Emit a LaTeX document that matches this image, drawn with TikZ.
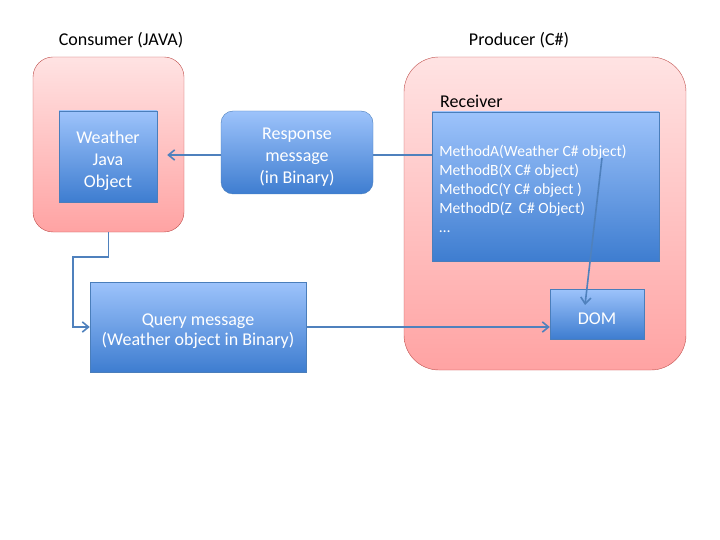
\documentclass[tikz,border=0pt]{standalone}
\usepackage{fontspec}
\setmainfont{Carlito}
\usetikzlibrary{arrows.meta,positioning,calc}
\definecolor{pinkedge}{HTML}{C0504D}
\definecolor{pinktop}{HTML}{FFE3E3}
\definecolor{pinkbot}{HTML}{FFA3A3}
\definecolor{bluetop}{HTML}{9DC3FB}
\definecolor{bluebot}{HTML}{3E7DD0}
\definecolor{blueedge}{HTML}{4A7EBB}
\definecolor{arrowblue}{HTML}{4F81BD}
\tikzset{
  side/.style={draw=pinkedge,top color=pinktop,bottom color=pinkbot,rounded corners=20pt},
  block/.style={draw=blueedge,top color=bluetop,bottom color=bluebot},
  blocktext/.style={text=white,align=center,font=\fontsize{18}{22}\selectfont},
  link/.style={draw=arrowblue,line width=1.6pt,-{Straight Barb[length=2.2mm,width=3.6mm]}},
  title/.style={font=\fontsize{18}{21}\selectfont}
}
\begin{document}
\begin{tikzpicture}[x=1pt,y=-1pt]
\useasboundingbox (0,0) rectangle (720,540);
\node[side,minimum width=151pt,minimum height=175pt] (consumer) at (108.5,144.5) {};
\node[side,rounded corners=35pt,minimum width=282pt,minimum height=313pt] (producer) at (545,213.5) {};
\node[title] (consumerlbl) at (121,40) {Consumer (JAVA)};
\node[title] (producerlbl) at (519,40) {Producer (C\#)};
\node[title,anchor=west,inner sep=0pt] (receiverlbl) at (440,101) {Receiver};
\node[block,minimum width=98pt,minimum height=91pt] (weather) at (108,156.5) {};
\node[blocktext] (weathertxt) at ([yshift=-4pt]weather.center) {Weather\\Java\\Object};
\node[block,minimum width=227pt,minimum height=149pt] (methods) at (545.5,186.5) {};
\node[blocktext,anchor=west,align=left,font=\fontsize{15.6}{19}\selectfont] (methodstxt) at ([xshift=4pt,yshift=-2pt]methods.west)
  {MethodA(Weather C\# object)\\MethodB(X C\# object)\\MethodC(Y C\# object )\\MethodD(Z\ \ C\# Object)\\\dots};
\node[block,minimum width=94pt,minimum height=50pt] (dom) at (597,314) {};
\node[blocktext] (domtxt) at ([yshift=-5pt]dom.center) {DOM};
\node[block,minimum width=216pt,minimum height=90pt] (query) at (198,327) {};
\node[blocktext,font=\fontsize{18}{20}\selectfont] (querytxt) at ([yshift=-4pt]query.center) {Query message\\(Weather object in Binary)};
\draw[link,shorten >=10pt] (methods.west |- 0,155) -- (weather.east |- 0,155);
\node[block,rounded corners=12pt,minimum width=152pt,minimum height=83pt] (response) at (297,152.5) {};
\node[blocktext] (responsetxt) at ([yshift=-5pt]response.center) {Response\\message\\(in Binary)};
\coordinate (methodA) at (602,158);
\coordinate (domin) at (585,305);
\draw[link] (methodA) -- (domin);
\draw[link] (consumer.south) |- (73,257) |- (query.west);
\draw[link] (query.east) -- (query.east -| dom.west);
\end{tikzpicture}
\end{document}
